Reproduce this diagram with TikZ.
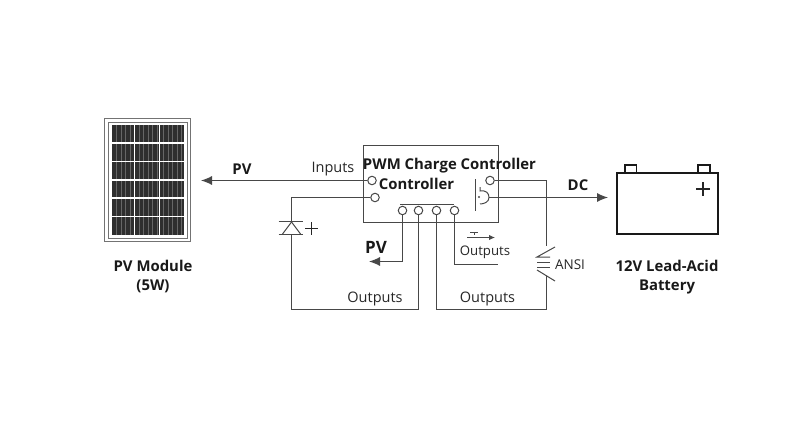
\documentclass[tikz,border=0pt]{standalone}
\usepackage{fontspec}
\setmainfont{Open Sans}
\usetikzlibrary{arrows.meta,positioning}
\definecolor{wire}{HTML}{484848}
\definecolor{cell}{HTML}{2E2E2E}
\tikzset{
  term/.style={circle,draw=wire,fill=white,line width=1pt,inner sep=0pt,minimum size=8.5pt},
  wiring/.style={draw=wire,line width=1pt},
  arrowed/.style={wiring,-{Latex[length=11pt,width=9pt]}},
  plain/.style={font=\fontsize{14.5}{16}\selectfont,text=black!85,inner sep=0pt},
  heavy/.style={font=\fontsize{14.9}{19}\selectfont\bfseries,text=black!90,inner sep=0pt,align=center},
}
\begin{document}
\begin{tikzpicture}[x=1pt,y=-1pt]
 \useasboundingbox (0,0) rectangle (800,436);
 % pv panel
 \node[draw=black!55,line width=1pt,minimum width=86pt,minimum height=123pt,inner sep=0pt] (frame) at (147.5,180) {};
 \node[draw=black!55,line width=1pt,minimum width=79pt,minimum height=116pt,inner sep=0pt] (framein) at (148,180) {};
 \fill[cell] (111.7,125) rectangle (184.3,235);
 \foreach \x in {116.5,121,125.5,130,139,143.5,148,152.5,157,163.5,168,172.5,177,181}
   \draw[black!60,line width=0.6pt] (\x,125) -- (\x,235);
 \foreach \x in {134.3,159.3}
   \draw[white,line width=1.3pt] (\x,125) -- (\x,235);
 \foreach \y in {143,161.5,180,198,216.7}
   \draw[white,line width=1.2pt] (111.7,\y) -- (184.3,\y);
 \node[heavy] (pvname) at (153,277) {PV Module\\(5W)};
 % controller
 \node[draw=wire,line width=1pt,minimum width=135pt,minimum height=77pt,inner sep=0pt] (ctrl) at (431,183.5) {};
 \node[term] (inA) at (372,180.5) {};
 \node[term] (inB) at (375,197.5) {};
 \node[term] (outA) at (490,180.5) {};
 \coordinate (outB) at (489,197.5);
 \node[term] (p1) at (402.5,210.5) {};
 \node[term] (p2) at (418.5,210.5) {};
 \node[term] (p3) at (436.5,210.5) {};
 \node[term] (p4) at (454.5,210.5) {};
 \draw[wiring] (400,204.5) -- (454,204.5);
 \draw[wiring] (475.5,179) -- (475.5,211);
 \draw[wiring] (480,187) -- (480,191) .. controls (486,190) and (489,193) .. (outB) .. controls (489,202) and (484,204) .. (480,204);
 \fill[wire] (479,197) circle (1.1pt);
 \node[heavy] (title) at (449.5,165.5) {PWM Charge Controller};
 \node[heavy] (title2) at (416.5,184) {Controller};
 % battery
 \node[draw=black!90,line width=2pt,minimum width=101pt,minimum height=60.5pt,inner sep=0pt] (batt) at (667.4,203.6) {};
 \draw[black!90,line width=1.5pt] (625,173) |- (636.7,165) -- (636.7,173);
 \draw[black!90,line width=1.5pt] (698,173) |- (710,165) -- (710,173);
 \draw[black!85,line width=1.4pt] (696,189) -- (710,189) (703,182) -- (703,196);
 \node[heavy] (battname) at (667,277) {12V Lead-Acid\\Battery};
 % wires
 \coordinate (pvtip) at (201,180.5);
 \coordinate (dctip) at (608,197.5);
 \coordinate (pvback) at (369,261.5);
 \coordinate (diodeT) at (291.5,222);
 \coordinate (diodeB) at (291.5,234);
 \coordinate (capT) at (546.5,246);
 \coordinate (capB) at (546.5,276);
 \coordinate (outEnd) at (498,264.5);
 \draw[arrowed] (inA) -- (pvtip);
 \draw[arrowed] (outB) -- (dctip);
 \draw[wiring] (inB) -| (diodeT);
 \draw[wiring] (diodeB) |- (291.5,309.5) -| (p2);
 \draw[arrowed] (p1) |- (pvback);
 \draw[wiring] (p4) |- (outEnd);
 \draw[wiring] (p3) |- (546.5,309.5) -- (capB);
 \draw[wiring] (outA) -| (capT);
 % diode
 \draw[wiring] (278.5,221.5) -- (303,221.5);
 \draw[wiring] (278.5,234.5) -- (303,234.5);
 \draw[wiring] (diodeT) -- (282.5,234);
 \draw[wiring] (diodeT) -- (300.5,234);
 \draw[black!85,line width=1.2pt] (305,228.5) -- (318,228.5) (311.5,222) -- (311.5,235);
 % ansi symbol
 \draw[wiring] (555,247) -- (537,257) -- (550,257);
 \draw[wiring] (537,262.5) -- (550,262.5);
 \draw[wiring] (537,267.5) -- (550,267.5);
 \draw[wiring] (537,270) -- (555,281);
 % small arrow
 \coordinate (smallA) at (467,237.5);
 \coordinate (smallB) at (495,237.5);
 \draw[wiring,-{Latex[length=6pt,width=5.5pt]}] (smallA) -- (smallB);
 \draw[wire,line width=0.8pt] (470,232) -- (478,232) (474,232) -- (474,235);
 % labels
 \node[plain] (lInputs) at (333,169.5) {Inputs};
 \node[plain] (lOut1) at (375,298.5) {Outputs};
 \node[plain] (lOut2) at (487.5,298.5) {Outputs};
 \node[plain,font=\fontsize{13.2}{16}\selectfont] (lOut3) at (485,252) {Outputs};
 \node[plain,font=\fontsize{13.5}{16}\selectfont] (lAnsi) at (570,264.5) {ANSI};
 \node[heavy] (lPV) at (242,169.5) {PV};
 \node[heavy] (lDC) at (578,185) {DC};
 \node[heavy,font=\fontsize{17}{19}\selectfont\bfseries] (lPVb) at (376,247.5) {PV};
\end{tikzpicture}
\end{document}
